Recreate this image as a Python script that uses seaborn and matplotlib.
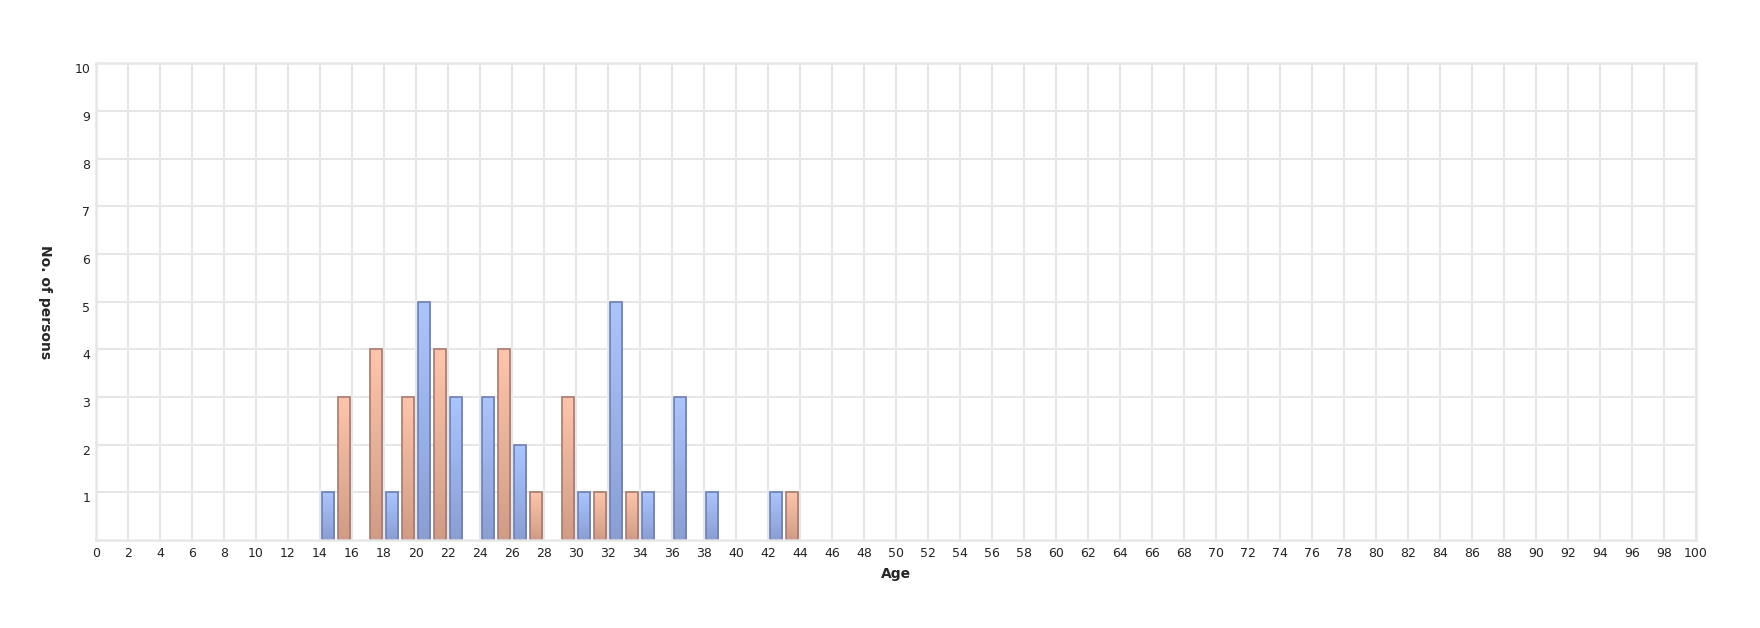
import numpy as np
import pandas as pd
import matplotlib
matplotlib.use("Agg")
import matplotlib.pyplot as plt
import seaborn as sns
from matplotlib.colors import LinearSegmentedColormap

# counts per 2-year age bin (bin start)
bin_starts = [14, 16, 18, 20, 22, 24, 26, 28, 30, 32, 34, 36, 38, 40, 42]
blue_counts = [1, 0, 1, 5, 3, 3, 2, 0, 1, 5, 1, 3, 1, 0, 1]
orange_counts = [3, 4, 3, 4, 0, 4, 1, 3, 1, 1, 0, 0, 0, 0, 1]
series_names = ["Male", "Female"]

x_ticks = list(range(0, 101, 2))
y_ticks = list(range(1, 11))

rows = []
for start, b, o in zip(bin_starts, blue_counts, orange_counts):
    rows.append({"age": start + 1, "group": series_names[0], "count": b})
    rows.append({"age": start + 1, "group": series_names[1], "count": o})
df = pd.DataFrame(rows)
df = df[df["count"] > 0]

sns.set_style("white")
plt.rcParams['font.family'] = ['DejaVu Sans']

fig = plt.figure(figsize=(17.6, 6.28), dpi=100)
ax = fig.add_axes([96 / 1760, 1 - 540 / 628, 1600 / 1760, (540 - 63.3) / 628])

grid_col = "#e6e6e6"
ax.set_axisbelow(True)
for v in x_ticks:
    ax.axvline(v, color=grid_col, lw=1.5, zorder=0)
for v in y_ticks:
    ax.axhline(v, color=grid_col, lw=1.5, zorder=0)

sns.barplot(data=df, x="age", y="count", hue="group", hue_order=series_names,
            native_scale=True, dodge=True, width=0.95, gap=0.2,
            errorbar=None, legend=False, ax=ax,
            palette=["#a9c3ff", "#ffc4ab"], zorder=2)

# vertical gradient fill for each bar
grads = {
    0: (["#8a9ed2", "#abc5ff"], "#6b80b3"),
    1: (["#d09b87", "#ffc5ac"], "#a67b6c"),
}
grad = np.linspace(0, 1, 256).reshape(-1, 1)
for i, cont in enumerate(ax.containers):
    colors, edge = grads[i]
    cmap = LinearSegmentedColormap.from_list(f"g{i}", colors)
    for p in cont.patches:
        x0, y0 = p.get_x(), p.get_y()
        w, h = p.get_width(), p.get_height()
        if h <= 0:
            continue
        p.set_edgecolor(edge)
        p.set_linewidth(1.2)
        p.set_facecolor("none")
        im = ax.imshow(grad, cmap=cmap, origin="lower", aspect="auto",
                       extent=[x0, x0 + w, y0, y0 + h], zorder=1.9)
        im.set_clip_path(p)

ax.set_xlim(0, 100)
ax.set_ylim(0, 10)
ax.set_xticks(x_ticks)
ax.set_xticklabels([str(v) for v in x_ticks], fontsize=9, color="#222222")
ax.set_yticks(y_ticks)
ax.set_yticklabels([str(v) for v in y_ticks], fontsize=9, color="#222222", va="top")
ax.tick_params(axis="both", length=0, pad=5)
ax.tick_params(axis="y", pad=4)

for s in ax.spines.values():
    s.set_color(grid_col)
    s.set_linewidth(1.8)

ax.set_xlabel("Age", fontsize=10, fontweight="bold", labelpad=5)
ax.set_ylabel("No. of persons", fontsize=10, fontweight="bold", rotation=270,
              va="bottom")
ax.yaxis.set_label_coords(-0.036, 0.5)

fig.savefig("out.png", dpi=100)
